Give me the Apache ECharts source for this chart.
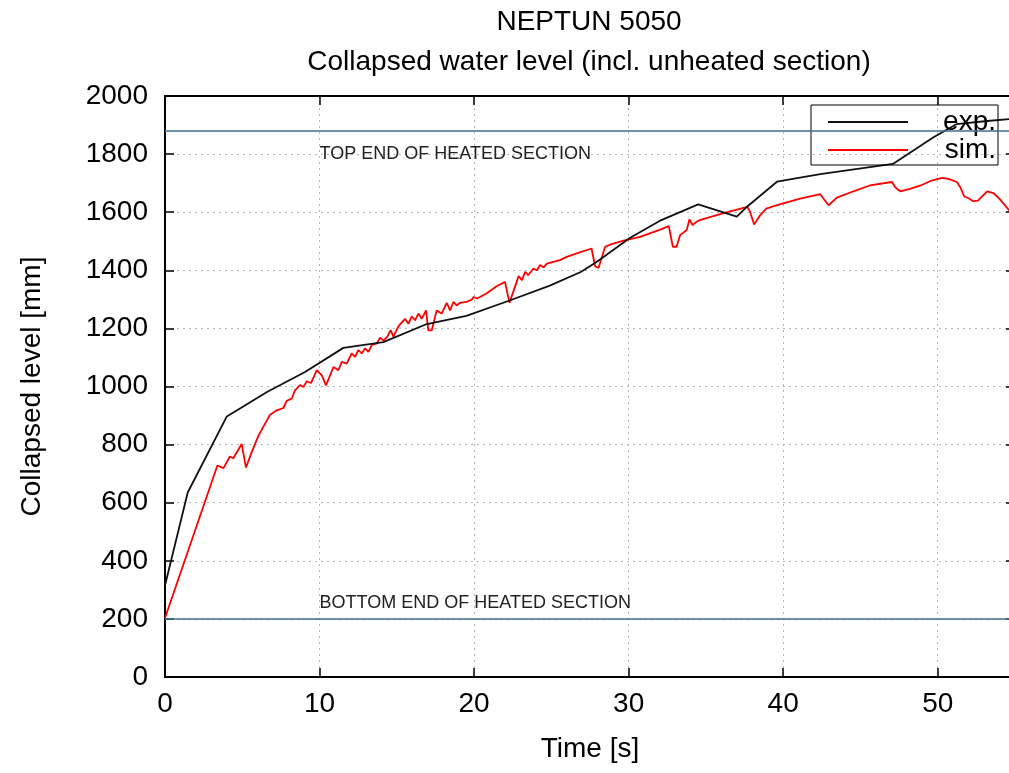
<!DOCTYPE html>
<html><head><meta charset="utf-8">
<script src="https://cdn.jsdelivr.net/npm/echarts@6/dist/echarts.min.js"></script>
<style>html,body{margin:0;padding:0;background:#fff}#c{width:1009px;height:773px}</style>
</head><body><div id="c"></div>
<script>
const titleLine1 = 'NEPTUN 5050';
const titleLine2 = 'Collapsed water level (incl. unheated section)';
const xName = 'Time [s]';
const yName = 'Collapsed level [mm]';
const seriesNames = ['exp.', 'sim.'];
const topHeated = 1880;
const bottomHeated = 200;
const topLabel = 'TOP END OF HEATED SECTION';
const bottomLabel = 'BOTTOM END OF HEATED SECTION';
const topLabelAt = [10, 1800];
const bottomLabelAt = [10, 255];

const expData = [
  [0,315],[1.47,635],[4.0,897],[6.6,981],[9.06,1050],[11.54,1133],[14.13,1153],[16.94,1215],
  [19.5,1243],[22.3,1296],[24.9,1347],[26.9,1394],[27.9,1428],[29.0,1470],[30.1,1512],[32.0,1570],
  [34.5,1627],[37.0,1585],[37.6,1616],[39.6,1705],[42.4,1731],[47.1,1766],[49.7,1857],[51.2,1903],
  [53.2,1914],[55,1922]
];
const simData = [
  [0,203],[3.39,728],[3.78,719],[4.2,759],[4.42,753],[4.96,802],[5.24,721],[5.61,774],[6.04,830],
  [6.8,903],[7.23,918],[7.66,926],[7.88,951],[8.2,958],[8.41,987],[8.74,1005],[8.95,998],[9.17,1018],
  [9.45,1012],[9.82,1056],[10.14,1039],[10.42,1004],[10.9,1067],[11.22,1056],[11.44,1085],[11.76,1079],
  [12.08,1114],[12.3,1102],[12.51,1125],[12.73,1114],[12.94,1131],[13.16,1119],[13.38,1142],[13.7,1148],
  [13.92,1168],[14.13,1158],[14.39,1172],[14.6,1194],[14.78,1172],[15.1,1207],[15.53,1233],[15.75,1216],
  [15.97,1241],[16.18,1228],[16.4,1251],[16.61,1233],[16.89,1262],[17.04,1193],[17.26,1193],[17.58,1262],
  [17.9,1251],[18.23,1288],[18.45,1262],[18.66,1291],[18.87,1279],[19.09,1288],[19.5,1291],[19.85,1299],
  [19.96,1308],[20.2,1303],[20.8,1320],[21.46,1345],[22.0,1360],[22.29,1288],[22.88,1380],[23.1,1366],
  [23.3,1395],[23.5,1383],[23.84,1406],[24.06,1400],[24.27,1418],[24.5,1410],[24.7,1423],[25.56,1435],
  [26.0,1446],[26.64,1458],[27.6,1475],[27.83,1414],[28.05,1408],[28.48,1481],[28.9,1490],[29.67,1502],
  [30.74,1515],[32.0,1539],[32.6,1552],[32.86,1481],[33.1,1481],[33.33,1521],[33.76,1539],[33.93,1575],
  [34.14,1556],[34.4,1567],[34.6,1573],[36.14,1597],[37.69,1618],[37.86,1601],[38.12,1558],[38.5,1589],
  [38.9,1612],[39.6,1624],[41.1,1647],[42.4,1662],[42.6,1647],[42.94,1624],[43.48,1650],[44.55,1672],
  [45.6,1692],[47.04,1704],[47.25,1686],[47.57,1672],[48.2,1680],[48.9,1692],[49.6,1709],[50.27,1718],
  [50.7,1715],[51.24,1704],[51.46,1686],[51.72,1654],[52.0,1648],[52.3,1638],[52.6,1640],[53.2,1672],
  [53.6,1666],[54.0,1646],[54.6,1608],[55,1590]
];
const xMin = 0, xMax = 55, xStep = 10;
const yMin = 0, yMax = 2000, yStep = 200;

const FONT = '"Liberation Sans", Arial, sans-serif';
const chart = echarts.init(document.getElementById('c'), null, {renderer: 'canvas'});

const tickCommon = {show: true, inside: true, length: 9, lineStyle: {color: '#000', width: 1.5}};
const axisLineCommon = {show: true, onZero: false, lineStyle: {color: '#000', width: 2}};
const splitCommon = {show: true, lineStyle: {color: '#b5b5b5', width: 1, type: [2, 4]}};

chart.setOption({
  animation: false,
  backgroundColor: '#fff',
  title: {
    text: titleLine1 + '\n' + titleLine2,
    left: 589, top: 2, textAlign: 'center', padding: 0,
    textStyle: {fontFamily: FONT, fontSize: 28, fontWeight: 'normal', color: '#000', lineHeight: 40}
  },
  grid: {left: 165, right: -6, top: 96, bottom: 96, containLabel: false, outerBoundsMode: 'none'},
  xAxis: [{
    type: 'value', min: xMin, max: xMax, interval: xStep, position: 'bottom',
    name: xName, nameLocation: 'middle', nameGap: 58,
    nameTextStyle: {fontFamily: FONT, fontSize: 28, color: '#000'},
    axisLine: axisLineCommon, axisTick: tickCommon, splitLine: splitCommon,
    axisLabel: {fontFamily: FONT, fontSize: 28, color: '#000', margin: 13,
      formatter: v => (v % xStep === 0 ? String(v) : '')}
  }, {
    type: 'value', min: xMin, max: xMax, interval: xStep, position: 'top',
    axisLine: axisLineCommon, axisTick: tickCommon, splitLine: {show: false}, axisLabel: {show: false}
  }],
  yAxis: [{
    type: 'value', min: yMin, max: yMax, interval: yStep, position: 'left',
    name: yName, nameLocation: 'middle', nameGap: 119,
    nameTextStyle: {fontFamily: FONT, fontSize: 28, color: '#000'},
    axisLine: axisLineCommon, axisTick: tickCommon, splitLine: splitCommon,
    axisLabel: {fontFamily: FONT, fontSize: 28, color: '#000', margin: 17, formatter: v => String(v)}
  }, {
    type: 'value', min: yMin, max: yMax, interval: yStep, position: 'right',
    axisLine: axisLineCommon, axisTick: tickCommon, splitLine: {show: false}, axisLabel: {show: false}
  }],
  legend: {
    orient: 'vertical', left: 811, top: 105, padding: [3, 2, 1, 17],
    itemWidth: 80, itemHeight: 2, itemGap: 0, icon: 'rect',
    borderColor: '#000', borderWidth: 1, borderRadius: 0, backgroundColor: 'transparent',
    data: seriesNames,
    formatter: n => '{a|' + n + '}',
    textStyle: {rich: {a: {width: 83, align: 'right', fontSize: 28, lineHeight: 20, color: '#000', fontFamily: FONT}}}
  },
  series: [{
    name: seriesNames[0], type: 'line', data: expData, symbol: 'none', showSymbol: false,
    lineStyle: {color: '#111', width: 1.8}, itemStyle: {color: '#111'}, z: 3,
    markLine: {
      silent: true, symbol: 'none', label: {show: false},
      lineStyle: {color: '#3f6e8e', width: 1.5, type: 'solid'},
      data: [{yAxis: topHeated}, {yAxis: bottomHeated}]
    }
  }, {
    name: seriesNames[1], type: 'line', data: simData, symbol: 'none', showSymbol: false,
    lineStyle: {color: '#ff0000', width: 1.8}, itemStyle: {color: '#ff0000'}, z: 2
  }]
});

const p1 = chart.convertToPixel({gridIndex: 0}, topLabelAt);
const p2 = chart.convertToPixel({gridIndex: 0}, bottomLabelAt);
chart.setOption({
  graphic: [
    {type: 'text', x: p1[0], y: p1[1], style: {text: topLabel, fontFamily: FONT, fontSize: 18, fill: '#222', verticalAlign: 'middle', align: 'left'}},
    {type: 'text', x: p2[0], y: p2[1], style: {text: bottomLabel, fontFamily: FONT, fontSize: 18, fill: '#222', verticalAlign: 'middle', align: 'left'}}
  ]
});
</script>
</body></html>
